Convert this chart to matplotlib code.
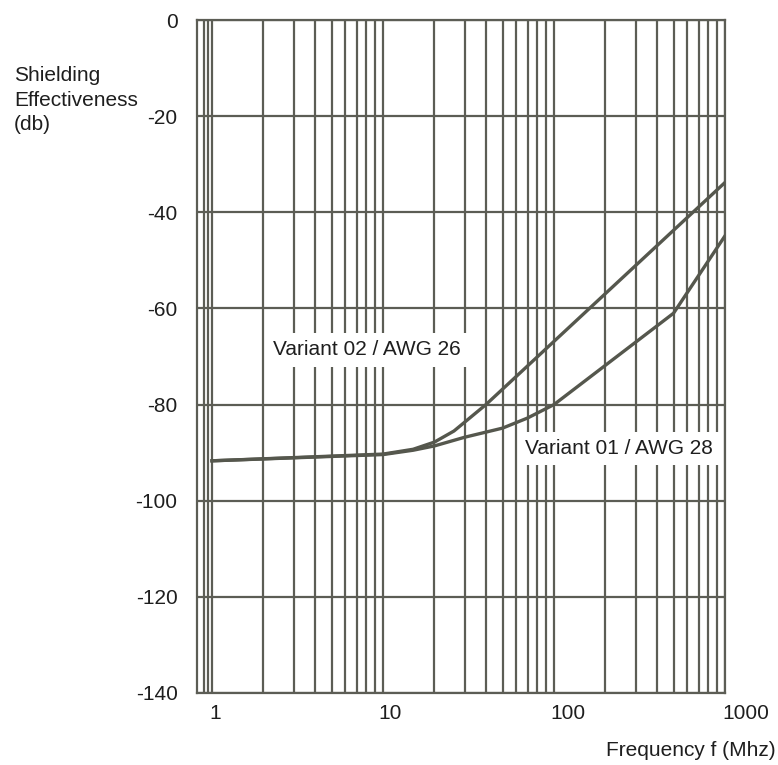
import matplotlib
matplotlib.use('Agg')
import matplotlib.pyplot as plt
import matplotlib.transforms as mtransforms
from matplotlib.ticker import NullFormatter

# Data
freq_02 = [1, 10, 15, 20, 26, 40, 1000]
se_02 = [-91.7, -90.3, -89.3, -87.8, -85.5, -80, -33.8]
freq_01 = [1, 10, 15, 20, 30, 50, 70, 100, 500, 1000]
se_01 = [-91.7, -90.4, -89.5, -88.6, -86.8, -84.9, -82.8, -80, -61, -44.9]

x_ticks = [1, 10, 100, 1000]
x_tick_labels = ['1', '10', '100', '1000']
y_ticks = [0, -20, -40, -60, -80, -100, -120, -140]
y_tick_labels = ['0', '-20', '-40', '-60', '-80', '-100', '-120', '-140']
x_minor = [0.9, 0.95] + [k * 10 ** d for d in range(0, 3) for k in range(2, 10)]

label_02 = 'Variant 02 / AWG 26'
label_01 = 'Variant 01 / AWG 28'

plt.rcParams['font.family'] = ['Liberation Sans', 'DejaVu Sans']

grid_c = '#5c5d55'
line_c = '#55574d'
text_c = '#1e1e1e'

fig = plt.figure(figsize=(7.78, 7.65), dpi=100)
ax = fig.add_axes([197 / 778, 1 - 693 / 765, 528 / 778, 673 / 765])
ax.set_xscale('log')
ax.set_xlim(0.817, 1000)
ax.set_ylim(-140, 0)

ax.set_xticks(x_ticks)
ax.set_xticklabels(x_tick_labels)
ax.set_xticks(x_minor, minor=True)
ax.xaxis.set_minor_formatter(NullFormatter())
ax.set_yticks(y_ticks)
ax.set_yticklabels(y_tick_labels)

ax.set_axisbelow(True)
ax.grid(True, which='both', axis='x', color=grid_c, lw=1.6)
ax.grid(True, which='major', axis='y', color=grid_c, lw=1.6)
ax.tick_params(which='both', length=0, labelsize=15, colors=text_c)
ax.tick_params(axis='y', pad=14)
ax.tick_params(axis='x', pad=8)
for s in ax.spines.values():
    s.set_color(grid_c)
    s.set_linewidth(1.6)

ax.plot(freq_02, se_02, color=line_c, lw=2.4, zorder=3)
ax.plot(freq_01, se_01, color=line_c, lw=2.4, zorder=3)

ax.text(2.27, -68.6, label_02, ha='left', va='center', fontsize=15, color=text_c,
        bbox=dict(boxstyle='square,pad=0.35', fc='white', ec='none'), zorder=4)
ax.text(67.7, -89.1, label_01, ha='left', va='center', fontsize=15, color=text_c,
        bbox=dict(boxstyle='square,pad=0.35', fc='white', ec='none'), zorder=4)

for lab, dx in zip(ax.get_xticklabels(), [3, 7, 14, 21]):
    lab.set_transform(lab.get_transform() + mtransforms.ScaledTranslation(dx / 100, 0, fig.dpi_scale_trans))

fig.text(14 / 778, 1 - 100 / 765, 'Shielding\nEffectiveness\n(db)', ha='left', va='center',
         fontsize=15, color=text_c, linespacing=1.34)
fig.text(776 / 778, 1 - 751 / 765, 'Frequency f (Mhz)', ha='right', va='center',
         fontsize=15, color=text_c)

fig.savefig('out.png', dpi=100, facecolor='white')
